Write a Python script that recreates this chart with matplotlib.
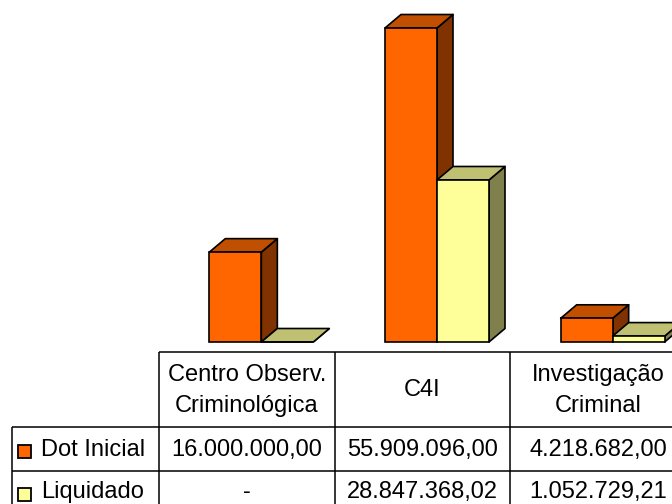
import matplotlib
matplotlib.use("Agg")
import matplotlib.pyplot as plt
from matplotlib.patches import Polygon, Rectangle

plt.rcParams['font.family'] = ['Liberation Sans', 'DejaVu Sans']

# ---- data ----
categories = ["Centro Observ.\nCriminológica", "C4I", "Investigação\nCriminal"]
series_names = ["Dot Inicial", "Liquidado"]
dot_inicial = [16000000.00, 55909096.00, 4218682.00]
liquidado = [None, 28847368.02, 1052729.21]
dot_labels = ["16.000.000,00", "55.909.096,00", "4.218.682,00"]
liq_labels = ["-", "28.847.368,02", "1.052.729,21"]

front_colors = ["#FF6600", "#FFFF99"]
top_colors = ["#C05000", "#C0C073"]
side_colors = ["#803300", "#80804D"]

W, H = 672, 504
fig = plt.figure(figsize=(W / 100, H / 100), dpi=100)

# ---- table axes (pixel coords) ----
tax = fig.add_axes([0, 0, 1, 1])
tax.set_xlim(0, W)
tax.set_ylim(H, 0)
tax.axis('off')

col_edges = [159, 335, 510, 686]
row_label_left = 12
y_head_top, y_head_bot, y_r1_bot, y_r2_bot = 352, 427, 471, 515
lw = 1.1
kw = dict(color='black', lw=lw, solid_capstyle='butt')
tax.plot([col_edges[0], col_edges[-1]], [y_head_top, y_head_top], **kw)
tax.plot([row_label_left, col_edges[-1]], [y_head_bot, y_head_bot], **kw)
tax.plot([row_label_left, col_edges[-1]], [y_r1_bot, y_r1_bot], **kw)
for xe in col_edges:
    tax.plot([xe, xe], [y_head_top, y_r2_bot], **kw)
tax.plot([row_label_left, row_label_left], [y_head_bot, y_r2_bot], **kw)

fs = 17
for i, cat in enumerate(categories):
    cx = (col_edges[i] + col_edges[i + 1]) / 2
    tax.text(cx, (y_head_top + y_head_bot) / 2 + 1, cat, ha='center', va='center',
             fontsize=fs, linespacing=1.5)
    tax.text(cx, (y_head_bot + y_r1_bot) / 2 + 1, dot_labels[i], ha='center', va='center', fontsize=fs)
    tax.text(cx, (y_r1_bot + y_r2_bot) / 2 - 1, liq_labels[i], ha='center', va='center', fontsize=fs)

row_centers = [(y_head_bot + y_r1_bot) / 2 + 2, (y_r1_bot + y_r2_bot) / 2 + 1]
text_centers = [(y_head_bot + y_r1_bot) / 2 + 1, (y_r1_bot + y_r2_bot) / 2 - 1]
for name, col, yc, yt in zip(series_names, front_colors, row_centers, text_centers):
    tax.add_patch(Rectangle((18, yc - 6.5), 13, 13, facecolor=col, edgecolor='black', lw=1.3))
    tax.text(41, yt, name, ha='left', va='center', fontsize=fs)

# ---- bar axes ----
bar_bottom_px = 342
ymax = 55909096.00 * bar_bottom_px / 314.0
bax = fig.add_axes([col_edges[0] / W, (H - bar_bottom_px) / H,
                    (col_edges[-1] - col_edges[0]) / W, bar_bottom_px / H])
bax.set_xlim(-0.5, len(categories) - 0.5)
bax.set_ylim(0, ymax)
bax.axis('off')
bax.patch.set_visible(False)

px_x = (col_edges[-1] - col_edges[0]) / len(categories)
px_y = bar_bottom_px / ymax
bw = 52 / px_x
off0 = -37.5 / px_x
ddx = 16 / px_x
ddy = 13.5 / px_y

edge_lw = 1.2
for s, vals in enumerate([dot_inicial, liquidado]):
    for i, v in enumerate(vals):
        v = 0 if v is None else v
        x0 = i + off0 + s * bw
        x1 = x0 + bw
        # side face
        bax.add_patch(Polygon([(x1, 0), (x1 + ddx, ddy), (x1 + ddx, v + ddy), (x1, v)],
                              closed=True, facecolor=side_colors[s], edgecolor='black',
                              lw=edge_lw, joinstyle='round', clip_on=False))
        # top face
        bax.add_patch(Polygon([(x0, v), (x1, v), (x1 + ddx, v + ddy), (x0 + ddx, v + ddy)],
                              closed=True, facecolor=top_colors[s], edgecolor='black',
                              lw=edge_lw, joinstyle='round', clip_on=False))
        # front face
        bax.bar(x0, v, width=bw, align='edge', color=front_colors[s],
                edgecolor='black', lw=edge_lw, clip_on=False)

fig.savefig("out.png", dpi=100)
